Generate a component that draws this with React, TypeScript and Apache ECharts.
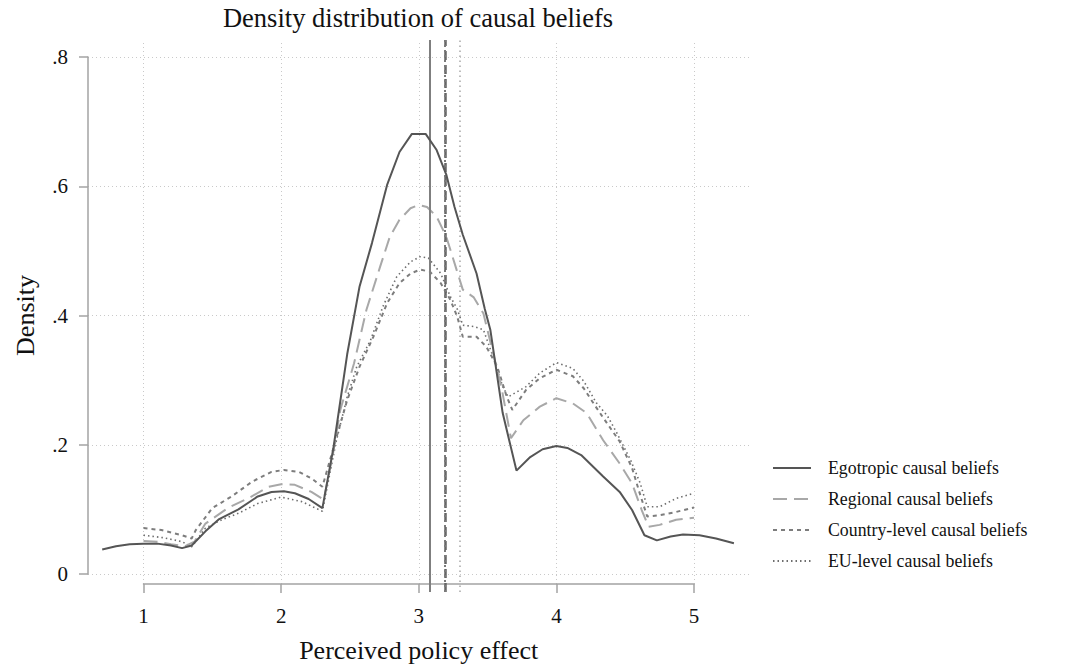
import React, { useEffect, useRef } from "react";
import * as echarts from "echarts";

const title = "Density distribution of causal beliefs";
const xTitle = "Perceived policy effect";
const yTitle = "Density";
const seriesNames = [
  "Egotropic causal beliefs",
  "Regional causal beliefs",
  "Country-level causal beliefs",
  "EU-level causal beliefs",
];

const egotropic: [number, number][] = [
  [0.7, 0.038], [0.8, 0.043], [0.9, 0.046], [1.0, 0.047], [1.1, 0.047], [1.2, 0.044],
  [1.28, 0.04], [1.35, 0.044], [1.45, 0.066], [1.55, 0.085], [1.69, 0.1], [1.83, 0.12],
  [1.93, 0.127], [2.02, 0.128], [2.1, 0.125], [2.2, 0.116], [2.3, 0.102], [2.38, 0.195],
  [2.48, 0.34], [2.57, 0.445], [2.66, 0.512], [2.77, 0.602], [2.86, 0.653], [2.95, 0.681],
  [3.05, 0.681], [3.13, 0.656], [3.2, 0.618], [3.26, 0.568], [3.32, 0.525], [3.42, 0.465],
  [3.48, 0.41], [3.52, 0.378], [3.61, 0.249], [3.71, 0.16], [3.81, 0.181], [3.9, 0.193],
  [4.0, 0.198], [4.08, 0.195], [4.18, 0.184], [4.34, 0.151], [4.46, 0.127], [4.55, 0.099],
  [4.64, 0.06], [4.73, 0.052], [4.83, 0.058], [4.92, 0.061], [5.04, 0.06], [5.16, 0.055],
  [5.29, 0.0475],
];

const regional: [number, number][] = [
  [1.0, 0.051], [1.1, 0.05], [1.2, 0.046], [1.3, 0.043], [1.37, 0.05], [1.45, 0.078],
  [1.62, 0.103], [1.76, 0.117], [1.91, 0.135], [2.0, 0.139], [2.1, 0.138], [2.22, 0.127],
  [2.31, 0.115], [2.38, 0.19], [2.43, 0.254], [2.53, 0.326], [2.62, 0.409], [2.72, 0.476],
  [2.79, 0.522], [2.86, 0.548], [2.94, 0.566], [3.0, 0.571], [3.06, 0.568], [3.13, 0.553],
  [3.2, 0.522], [3.26, 0.481], [3.32, 0.44], [3.4, 0.428], [3.47, 0.403], [3.54, 0.342],
  [3.6, 0.29], [3.67, 0.21], [3.76, 0.238], [3.88, 0.259], [4.0, 0.272], [4.12, 0.264],
  [4.22, 0.249], [4.34, 0.207], [4.46, 0.171], [4.55, 0.14], [4.62, 0.099], [4.67, 0.073],
  [4.75, 0.076], [4.87, 0.084], [5.0, 0.087],
];

const countryLevel: [number, number][] = [
  [1.0, 0.071], [1.13, 0.068], [1.28, 0.06], [1.35, 0.055], [1.38, 0.068], [1.5, 0.102],
  [1.64, 0.12], [1.79, 0.143], [1.93, 0.158], [2.02, 0.161], [2.13, 0.158], [2.22, 0.148],
  [2.3, 0.135], [2.4, 0.21], [2.48, 0.269], [2.57, 0.321], [2.67, 0.367], [2.77, 0.419],
  [2.86, 0.45], [2.94, 0.465], [3.01, 0.471], [3.08, 0.468], [3.16, 0.45], [3.23, 0.424],
  [3.28, 0.398], [3.32, 0.367], [3.42, 0.367], [3.49, 0.352], [3.57, 0.321], [3.64, 0.274],
  [3.68, 0.254], [3.78, 0.285], [3.88, 0.303], [4.0, 0.316], [4.12, 0.306], [4.2, 0.287],
  [4.27, 0.264], [4.33, 0.245], [4.46, 0.205], [4.55, 0.164], [4.61, 0.122], [4.66, 0.089],
  [4.75, 0.091], [4.87, 0.096], [5.0, 0.103],
];

const euLevel: [number, number][] = [
  [1.0, 0.06], [1.15, 0.056], [1.28, 0.05], [1.35, 0.042], [1.45, 0.071], [1.57, 0.084],
  [1.69, 0.094], [1.83, 0.109], [2.0, 0.119], [2.15, 0.112], [2.3, 0.097], [2.4, 0.205],
  [2.48, 0.274], [2.55, 0.321], [2.65, 0.362], [2.74, 0.414], [2.84, 0.46], [2.94, 0.483],
  [3.01, 0.491], [3.07, 0.489], [3.16, 0.465], [3.23, 0.429], [3.28, 0.41], [3.32, 0.385],
  [3.4, 0.383], [3.47, 0.378], [3.54, 0.336], [3.61, 0.29], [3.65, 0.274], [3.78, 0.29],
  [3.88, 0.311], [4.0, 0.327], [4.12, 0.318], [4.2, 0.298], [4.29, 0.265], [4.37, 0.245],
  [4.44, 0.218], [4.54, 0.176], [4.61, 0.14], [4.66, 0.104], [4.75, 0.104], [4.87, 0.117],
  [5.0, 0.125],
];

const means = [3.083, 3.19, 3.19, 3.3];
const xTickMin = 1;
const xTickMax = 5;
const yTickMax = 0.8;

const FONT = '"Liberation Serif", "DejaVu Serif", serif';

// layout (pixels)
const PX_X1 = 143.5;
const PX_X5 = 694;
const PX_Y0 = 574;
const PX_Y8 = 57;
const PLOT_L = 88;
const PLOT_R = 750;
const PLOT_T = 40;
const PLOT_B = 592;

export default function App() {
  const ref = useRef<HTMLDivElement>(null);
  useEffect(() => {
    const chart = echarts.init(ref.current!, null, { renderer: "svg" });
    const pxPerX = (PX_X5 - PX_X1) / (xTickMax - xTickMin);
    const pxPerY = (PX_Y0 - PX_Y8) / yTickMax;
    const X0 = xTickMin - (PX_X1 - PLOT_L) / pxPerX;
    const X1 = xTickMax + (PLOT_R - PX_X5) / pxPerX;
    const Y0 = -(PLOT_B - PX_Y0) / pxPerY;
    const Y1 = yTickMax + (PX_Y8 - PLOT_T) / pxPerY;

    const axisGray = "#a3a3a3";
    const gridStyle = { color: "#c9c9c9", width: 1, type: [1, 3] as any };

    const styles = [
      { color: "#555555", width: 2, type: "solid" as any },
      { color: "#a8a8a8", width: 2, type: [14, 7] as any },
      { color: "#7d7d7d", width: 2, type: [4, 4] as any },
      { color: "#6e6e6e", width: 1.6, type: [1.5, 3] as any },
    ];
    const meanStyles = [
      { color: "#7f7f7f", width: 2, type: "solid" as any },
      { color: "#666666", width: 2.5, type: [9, 5] as any },
      { color: "#7a7a7a", width: 2, type: [2, 3] as any },
      { color: "#a8a8a8", width: 1.5, type: [1.5, 3.5] as any },
    ];
    const datasets = [egotropic, regional, countryLevel, euLevel];

    chart.setOption({
      animation: false,
      backgroundColor: "#ffffff",
      textStyle: { fontFamily: FONT },
      grid: [
        { left: PLOT_L, top: PLOT_T, width: PLOT_R - PLOT_L, height: PLOT_B - PLOT_T },
        { left: PX_X1, top: 43, width: PX_X5 - PX_X1, height: 587 - 43 },
        { left: PLOT_L, top: PX_Y8, width: PLOT_R - PLOT_L, height: PX_Y0 - PX_Y8 },
      ],
      xAxis: [
        { gridIndex: 0, type: "value", min: X0, max: X1, show: false },
        {
          gridIndex: 1,
          type: "value",
          min: xTickMin,
          max: xTickMax,
          interval: 1,
          offset: 5,
          axisLine: { show: true, lineStyle: { color: axisGray, width: 1.5 } },
          axisTick: { show: true, length: 9, lineStyle: { color: axisGray, width: 1.5 } },
          axisLabel: { margin: 16, fontSize: 21, color: "#111", fontFamily: FONT },
          splitLine: { show: true, lineStyle: gridStyle },
          name: xTitle,
          nameLocation: "middle",
          nameGap: 48,
          nameTextStyle: { fontSize: 26, color: "#111", fontFamily: FONT },
        },
        { gridIndex: 2, type: "value", min: 0, max: 1, show: false },
      ],
      yAxis: [
        { gridIndex: 0, type: "value", min: Y0, max: Y1, show: false },
        { gridIndex: 1, type: "value", min: 0, max: 1, show: false },
        {
          gridIndex: 2,
          type: "value",
          min: 0,
          max: yTickMax,
          interval: 0.2,
          axisLine: { show: true, lineStyle: { color: axisGray, width: 1.5 } },
          axisTick: { show: true, length: 9, lineStyle: { color: axisGray, width: 1.5 } },
          axisLabel: {
            margin: 20,
            fontSize: 21,
            color: "#111",
            fontFamily: FONT,
            formatter: (v: number) => (Math.abs(v) < 1e-9 ? "0" : v.toFixed(1).replace(/^0/, "")),
          },
          splitLine: { show: true, lineStyle: gridStyle },
          name: yTitle,
          nameLocation: "middle",
          nameGap: 50,
          nameTextStyle: { fontSize: 26, color: "#111", fontFamily: FONT },
        },
      ],
      legend: {
        orient: "vertical",
        left: 767,
        top: 454,
        itemWidth: 38,
        itemHeight: 14,
        itemGap: 13,
        data: seriesNames,
        itemStyle: { opacity: 0 },
        textStyle: { fontSize: 17.8, color: "#111", fontFamily: FONT, padding: [0, 0, 0, 12] },
      },
      graphic: [
        {
          type: "text",
          x: 418,
          y: 18,
          style: {
            text: title,
            align: "center",
            verticalAlign: "middle",
            fontSize: 26.5,
            fontFamily: FONT,
            fill: "#111",
          },
        },
      ],
      series: datasets.map((d, i) => ({
        type: "line",
        name: seriesNames[i],
        data: d,
        xAxisIndex: 0,
        yAxisIndex: 0,
        symbol: "none",
        lineStyle: styles[i],
        itemStyle: { color: styles[i].color },
        z: 5 - i,
        markLine: {
          silent: true,
          symbol: "none",
          label: { show: false },
          lineStyle: meanStyles[i],
          data: [{ xAxis: means[i] }],
        },
      })),
    });
    return () => chart.dispose();
  }, []);
  return (
    <div
      ref={ref}
      style={{ position: "fixed", left: 0, top: 0, width: 1071, height: 668 }}
    />
  );
}
